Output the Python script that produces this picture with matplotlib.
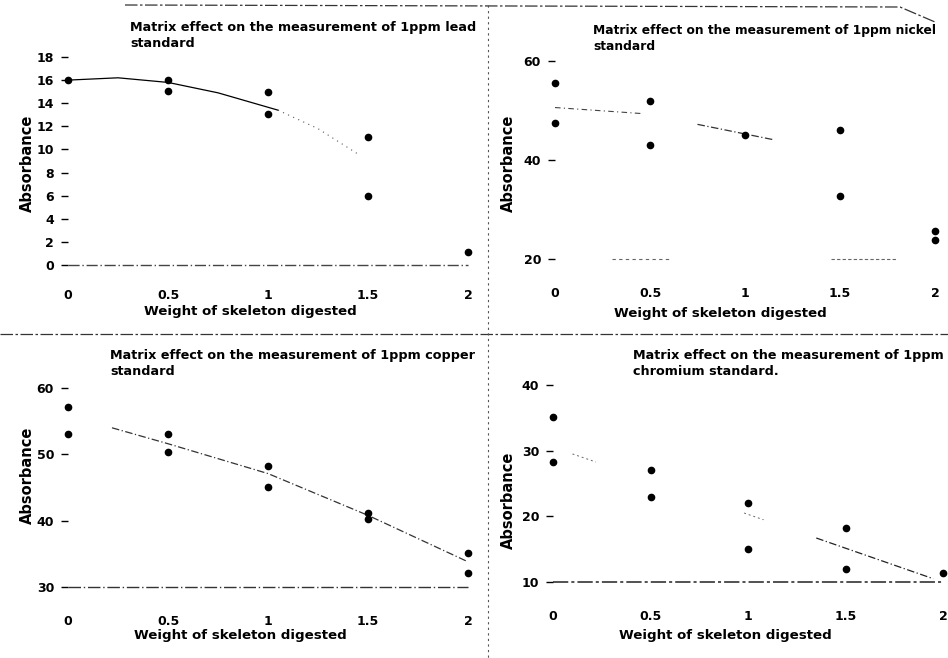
import matplotlib
matplotlib.use("Agg")
import matplotlib.pyplot as plt
from matplotlib.lines import Line2D
import numpy as np

W, H = 948, 658

# ---------------- data ----------------
x_ticks = [0, 0.5, 1, 1.5, 2]
x_tick_labels = ["0", "0.5", "1", "1.5", "2"]

lead_x = [0, 0.5, 0.5, 1, 1, 1.5, 1.5, 2]
lead_y = [16, 16, 15.1, 15, 13.1, 11.1, 6, 1.1]
lead_trend_solid_x = [0, 0.25, 0.5, 0.75, 1.05]
lead_trend_solid_y = [16, 16.2, 15.8, 14.9, 13.4]
lead_trend_dot_x = [1.05, 1.25, 1.45]
lead_trend_dot_y = [13.4, 11.8, 9.6]
lead_yticks = [0, 2, 4, 6, 8, 10, 12, 14, 16, 18]
lead_ytick_labels = ["0", "2", "4", "6", "8", "10", "12", "14", "16", "18"]

nickel_x = [0, 0, 0.5, 0.5, 1, 1.5, 1.5, 2, 2]
nickel_y = [55.5, 47.5, 52, 43, 45, 46, 32.8, 25.7, 23.8]
nickel_trend_x = [0, 0.45, 0.75, 1.15]
nickel_trend_y = [50.6, 49.4, 47.2, 44.1]
nickel_yticks = [20, 40, 60]
nickel_ytick_labels = ["20", "40", "60"]

copper_x = [0, 0, 0.5, 0.5, 1, 1, 1.5, 1.5, 2, 2]
copper_y = [57.1, 53.1, 53.1, 50.3, 48.2, 45.1, 41.1, 40.2, 35.1, 32.1]
copper_trend_x = [0.22, 0.5, 1, 1.5, 2]
copper_trend_y = [54, 51.6, 47.1, 40.8, 33.8]
copper_yticks = [30, 40, 50, 60]
copper_ytick_labels = ["30", "40", "50", "60"]

chromium_x = [0, 0, 0.5, 0.5, 1, 1, 1.5, 1.5, 2]
chromium_y = [35.2, 28.2, 27.1, 23.0, 22.1, 15.1, 18.2, 12.0, 11.4]
chromium_trend_x = [0.1, 1.0, 1.35, 1.95]
chromium_trend_y = [29.5, 20.3, 16.7, 10.5]
chromium_yticks = [10, 20, 30, 40]
chromium_ytick_labels = ["10", "20", "30", "40"]
# visible (faded) stretches of the chromium trend line
chromium_visible = [(0.1, 0.22), (0.98, 1.08), (1.35, 1.95)]

titles = [
    "Matrix effect on the measurement of 1ppm lead\nstandard",
    "Matrix effect on the measurement of 1ppm nickel\nstandard",
    "Matrix effect on the measurement of 1ppm copper\nstandard",
    "Matrix effect on the measurement of 1ppm\nchromium standard.",
]
xlabel = "Weight of skeleton digested"
ylabel = "Absorbance"

plt.rcParams['font.family'] = ['DejaVu Sans']

fig = plt.figure(figsize=(W / 100, H / 100), dpi=100)
fig.patch.set_facecolor("white")


def make_ax(x0, x1, ytop, ybot):
    return fig.add_axes([x0 / W, 1 - ybot / H, (x1 - x0) / W, (ybot - ytop) / H])


def style(ax, ylim, yticks, ylabels, xpad):
    ax.set_xlim(0, 2)
    ax.set_ylim(*ylim)
    for s in ax.spines.values():
        s.set_visible(False)
    ax.set_xticks(x_ticks)
    ax.set_xticklabels(x_tick_labels)
    ax.set_yticks(yticks)
    ax.set_yticklabels(ylabels)
    ax.tick_params(axis='x', length=0, pad=xpad, labelsize=9)
    ax.tick_params(axis='y', direction='out', length=5, width=1.0, pad=5,
                   labelsize=9)
    for t in ax.get_xticklabels() + ax.get_yticklabels():
        t.set_fontweight('bold')
    ax.set_facecolor("none")


mk = dict(marker='o', markersize=4.5, color='black', linestyle='none', clip_on=False, zorder=5)

# Panel 1: lead
ax1 = make_ax(68, 468, 57, 265)
style(ax1, (0, 18), lead_yticks, lead_ytick_labels, 17)
ax1.plot([0, 2], [0, 0], color='#444444', lw=1.0, ls=(0, (8, 2, 1, 2)), clip_on=False)
ax1.plot(lead_trend_solid_x, lead_trend_solid_y, color='black', lw=0.9, clip_on=False)
ax1.plot(lead_trend_dot_x, lead_trend_dot_y, color='#555555', lw=0.8, ls=(0, (1, 4)), clip_on=False)
ax1.plot(lead_x, lead_y, **mk)

# Panel 2: nickel
ax2 = make_ax(555, 935, 61, 259)
style(ax2, (20, 60), nickel_yticks, nickel_ytick_labels, 20)
ax2.plot([0.3, 0.6], [20, 20], color='#666666', lw=0.8, ls=(0, (3, 3)), clip_on=False)
ax2.plot([1.45, 1.8], [20, 20], color='#666666', lw=0.8, ls=(0, (3, 2)), clip_on=False)
ax2.plot(nickel_trend_x[:2], nickel_trend_y[:2], color='#444444', lw=0.8, ls=(0, (5, 3, 1, 3)), clip_on=False)
ax2.plot(nickel_trend_x[2:], nickel_trend_y[2:], color='#333333', lw=0.9, ls=(0, (6, 2, 1, 2)), clip_on=False)
ax2.plot(nickel_x, nickel_y, **mk)

# Panel 3: copper
ax3 = make_ax(68, 468, 388, 587)
style(ax3, (30, 60), copper_yticks, copper_ytick_labels, 20)
ax3.plot([0, 2], [30, 30], color='#333333', lw=1.0, ls=(0, (9, 2, 1, 2)), clip_on=False)
ax3.plot(copper_trend_x, copper_trend_y, color='#333333', lw=0.9, ls=(0, (6, 2, 1, 2)), clip_on=False)
ax3.plot(copper_x, copper_y, **mk)

# Panel 4: chromium
ax4 = make_ax(553, 943, 385, 582)
style(ax4, (10, 40), chromium_yticks, chromium_ytick_labels, 20)
ax4.plot([0, 2], [10, 10], color='#222222', lw=1.1, ls=(0, (10, 2, 2, 2)), clip_on=False)
for a, b in chromium_visible:
    xs = np.array([a, b])
    ys = np.interp(xs, chromium_trend_x, chromium_trend_y)
    last = b > 1.5
    ax4.plot(xs, ys, color='#222222' if last else '#666666', lw=0.9 if last else 0.7,
             ls=(0, (6, 2, 1, 2)) if last else (0, (2, 3)), clip_on=False)
ax4.plot(chromium_x, chromium_y, **mk)

# titles, axis labels (pixel placed)
title_pos = [(130, 21), (593, 24), (110, 349), (633, 349)]
title_size = [9.2, 8.8, 9.2, 9.2]
xlabel_pos = [(250, 312), (720, 313), (240, 635), (725, 635)]
ylabel_pos = [(27, 163), (508, 163), (27, 475), (508, 500)]
for (tx, ty), fs, (lx, ly), (yx, yy), t in zip(title_pos, title_size, xlabel_pos, ylabel_pos, titles):
    fig.text(tx / W, 1 - ty / H, t, ha='left', va='top', fontsize=fs,
             fontweight='bold', linespacing=1.3)
    fig.text(lx / W, 1 - ly / H, xlabel, ha='center', va='center', fontsize=9.6,
             fontweight='bold')
    fig.text(yx / W, 1 - yy / H, ylabel, ha='center', va='center', fontsize=10.5,
             fontweight='bold', rotation=90)

# scan frame lines
def fline(xs, ys, **kw):
    fig.add_artist(Line2D([x / W for x in xs], [1 - y / H for y in ys],
                          transform=fig.transFigure, **kw))

fline([125, 900, 935], [5, 7, 22], color='#333333', lw=0.9, ls=(0, (10, 2, 2, 2)))
fline([0, 948], [334, 334], color='#333333', lw=0.9, ls=(0, (10, 2, 2, 2)))
fline([488, 488], [5, 658], color='#555555', lw=0.8, ls=(0, (2, 3)))

fig.savefig("out.png", dpi=100, facecolor="white")
